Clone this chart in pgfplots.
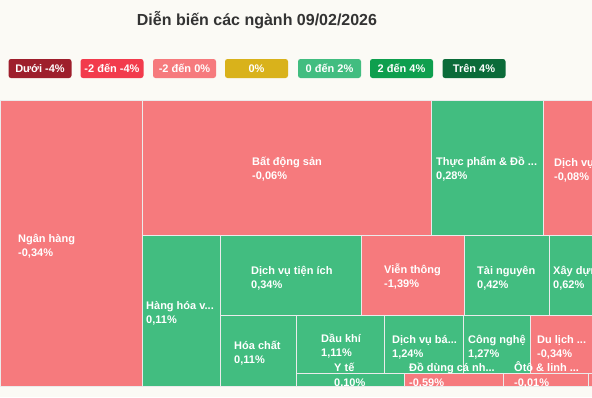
\documentclass[border=0pt]{standalone}
\usepackage{pgfplots}
\pgfplotsset{compat=1.18}
\usepackage{fontspec}
\setmainfont{Liberation Sans}
\definecolor{bg}{HTML}{FBFAF5}
\definecolor{sal}{HTML}{F67A7D}
\definecolor{grn}{HTML}{42BD80}
\definecolor{lg1}{HTML}{9E1F2C}
\definecolor{lg2}{HTML}{F23B4C}
\definecolor{lg3}{HTML}{F67A7D}
\definecolor{lg4}{HTML}{D9B21B}
\definecolor{lg5}{HTML}{42BD80}
\definecolor{lg6}{HTML}{0E9F4E}
\definecolor{lg7}{HTML}{0B6B39}
\definecolor{ttl}{HTML}{333333}
\newcommand{\rect}[5]{\addplot[fill=#5, draw=white!92!black, line width=0.9pt] coordinates {(#1,#2) (#3,#2) (#3,#4) (#1,#4)} -- cycle;}
\newcommand{\lab}[5]{%
  \node[anchor=base west, text=white, font=\fontsize{11}{13}\selectfont\bfseries, inner sep=0pt] at (axis cs:#1,#2) {#3};%
  \node[anchor=base west, text=white, font=\fontsize{11}{13}\selectfont\bfseries, inner sep=0pt] at (axis cs:#1,#4) {#5};}
\newcommand{\leg}[3]{\node[fill=#2, rounded corners=2.5pt, minimum width=63pt, minimum height=19pt, inner sep=0pt, text=white, font=\fontsize{11}{13}\selectfont\bfseries] at (axis cs:#1,68.5) {#3};}
\begin{document}
\begin{tikzpicture}
\begin{axis}[
  scale only axis, width=592pt, height=397pt,
  xmin=0, xmax=592, ymin=0, ymax=397, y dir=reverse,
  axis lines=none, ticks=none, clip=true,
]
\addplot[fill=bg, draw=none] coordinates {(0,0) (592,0) (592,397) (0,397)} -- cycle;
% treemap rectangles
\rect{0}{100}{142}{386}{sal}
\rect{142}{100}{431}{235}{sal}
\rect{431}{100}{543}{235}{grn}
\rect{543}{100}{594}{235}{sal}
\rect{142}{235}{220}{386}{grn}
\rect{220}{235}{361}{315}{grn}
\rect{361}{235}{464}{315}{sal}
\rect{464}{235}{549}{315}{grn}
\rect{549}{235}{594}{315}{grn}
\rect{220}{315}{296}{386}{grn}
\rect{296}{315}{384}{373}{grn}
\rect{384}{315}{463}{373}{grn}
\rect{463}{315}{530}{373}{grn}
\rect{530}{315}{594}{373}{sal}
\rect{296}{373}{404}{386}{grn}
\rect{404}{373}{503}{386}{sal}
\rect{503}{373}{588}{386}{sal}
\rect{588}{373}{594}{386}{sal}
% labels
\lab{18}{242}{Ngân hàng}{256}{-0,34\%}
\lab{252}{165}{Bất động sản}{179}{-0,06\%}
\lab{436}{165}{Thực phẩm \& Đồ ...}{179}{0,28\%}
\lab{554}{166}{Dịch vụ ...}{180}{-0,08\%}
\lab{146}{309}{Hàng hóa v...}{323}{0,11\%}
\lab{251}{274}{Dịch vụ tiện ích}{288}{0,34\%}
\lab{384}{273}{Viễn thông}{287}{-1,39\%}
\lab{477}{274}{Tài nguyên}{288}{0,42\%}
\lab{553}{274}{Xây dựng}{288}{0,62\%}
\lab{234}{349}{Hóa chất}{363}{0,11\%}
\lab{321}{342}{Dầu khí}{356}{1,11\%}
\lab{392}{343}{Dịch vụ bá...}{357}{1,24\%}
\lab{468}{343}{Công nghệ}{357}{1,27\%}
\lab{537}{343}{Du lịch ...}{357}{-0,34\%}
\lab{334}{371}{Y tế}{386}{0,10\%}
\lab{409}{371}{Đồ dùng cá nh...}{386}{-0,59\%}
\lab{514}{371}{Ôtô \& linh ...}{386}{-0,01\%}
% title
\node[text=ttl, font=\fontsize{16}{19}\selectfont\bfseries, inner sep=0pt] at (axis cs:257,20) {Diễn biến các ngành 09/02/2026};
% legend
\leg{40}{lg1}{Dưới -4\%}
\leg{112}{lg2}{-2 đến -4\%}
\leg{184.5}{lg3}{-2 đến 0\%}
\leg{256.5}{lg4}{0\%}
\leg{329.5}{lg5}{0 đến 2\%}
\leg{401.5}{lg6}{2 đến 4\%}
\leg{474}{lg7}{Trên 4\%}
\end{axis}
\pgfresetboundingbox
\useasboundingbox (current axis.south west) rectangle (current axis.north east);
\end{tikzpicture}
\end{document}
